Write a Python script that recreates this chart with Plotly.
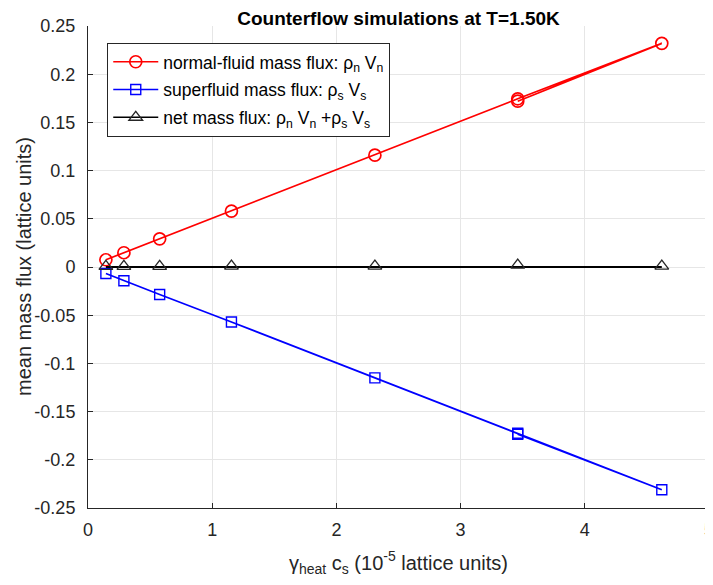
import plotly.graph_objects as go

# heating rate gamma_heat * c_s (1e-5 lattice units)
gamma_cs = [0.144, 0.289, 0.577, 1.155, 2.31, 3.46, 4.62, 3.46]
flux_normal = [0.0075, 0.0148, 0.0292, 0.058, 0.116, 0.1745, 0.232, 0.172]
flux_super = [-0.0068, -0.0142, -0.0285, -0.057, -0.115, -0.1725, -0.231, -0.1735]
flux_net = [0.0007, 0.0006, 0.0007, 0.001, 0.001, 0.002, 0.001]

ytick_vals = [0.25, 0.2, 0.15, 0.1, 0.05, 0, -0.05, -0.1, -0.15, -0.2, -0.25]
ytick_text = ['0.25', '0.2', '0.15', '0.1', '0.05', '0', '-0.05', '-0.1', '-0.15', '-0.2', '-0.25']
xtick_vals = [0, 1, 2, 3, 4, 5]

font = 'Liberation Sans, Arial, sans-serif'
net_name = 'net mass flux: ρ<sub>n</sub> V<sub>n</sub> +ρ<sub>s</sub> V<sub>s</sub>'

fig = go.Figure()
fig.add_trace(go.Scatter(x=gamma_cs, y=flux_normal, mode='lines+markers',
                         name='normal-fluid mass flux: ρ<sub>n</sub> V<sub>n</sub>',
                         legendgroup='a',
                         line=dict(color='#ff0000', width=1.7),
                         marker=dict(symbol='circle-open', size=12, color='#ff0000',
                                     line=dict(width=1.7))))
fig.add_trace(go.Scatter(x=gamma_cs, y=flux_super, mode='lines+markers',
                         name='superfluid mass flux: ρ<sub>s</sub> V<sub>s</sub>',
                         legendgroup='b',
                         line=dict(color='#0000ff', width=1.7),
                         marker=dict(symbol='square-open', size=10, color='#0000ff',
                                     line=dict(width=1.4))))
# net flux: line drawn along zero, markers at the measured values
fig.add_trace(go.Scatter(x=gamma_cs[:7], y=[0] * 7, mode='lines',
                         line=dict(color='#000000', width=1.8),
                         showlegend=False, hoverinfo='skip'))
fig.add_trace(go.Scatter(x=gamma_cs[:7], y=flux_net, mode='markers',
                         showlegend=False,
                         marker=dict(symbol='triangle-up-open', size=12, color='#262626',
                                     line=dict(width=1.3))))
fig.add_trace(go.Scatter(x=[None], y=[None], mode='lines+markers',
                         name=net_name, legendgroup='c',
                         line=dict(color='#000000', width=1.7),
                         marker=dict(symbol='triangle-up-open', size=12, color='#262626',
                                     line=dict(width=1.3))))

fig.update_layout(
    width=705, height=569,
    margin=dict(l=80, r=4, t=18, b=69),
    paper_bgcolor='white', plot_bgcolor='white',
    font=dict(family=font, size=18, color='#262626'),
    title=dict(text='<b>Counterflow simulations at T=1.50K</b>', x=0.5, xref='paper',
               y=1, yref='container', yanchor='top', pad=dict(t=4),
               font=dict(size=19, color='#000000')),
    showlegend=True,
    legend=dict(x=0.031, y=0.965, xanchor='left', yanchor='top',
                bgcolor='white', bordercolor='#262626', borderwidth=1,
                traceorder='grouped', tracegroupgap=2, itemwidth=45,
                font=dict(size=17.5, color='#000000')),
)
fig.add_annotation(text='mean mass flux (lattice units)', textangle=-90,
                   x=0, xref='paper', xanchor='center', xshift=-64,
                   y=0.5, yref='paper', yanchor='middle', showarrow=False,
                   font=dict(size=20, color='#262626'))
fig.update_xaxes(range=[0, 5], tickvals=xtick_vals, ticks='inside', ticklen=5,
                 tickcolor='#262626', showline=True, linecolor='#262626', linewidth=1,
                 showgrid=True, gridcolor='#e6e6e6', zeroline=False,
                 ticklabeloverflow='allow', ticklabelstandoff=5, automargin=False,
                 title=dict(text='γ<sub>heat</sub> c<sub>s</sub> (10<sup>-5</sup> lattice units)',
                            font=dict(size=20), standoff=18))
fig.update_yaxes(range=[-0.25, 0.25], tickvals=ytick_vals, ticktext=ytick_text,
                 ticks='inside', ticklen=5, tickcolor='#262626',
                 showline=True, linecolor='#262626', linewidth=1,
                 showgrid=True, gridcolor='#e6e6e6', zeroline=False,
                 ticklabelstandoff=8, automargin=False)

fig.write_html("out.html")
